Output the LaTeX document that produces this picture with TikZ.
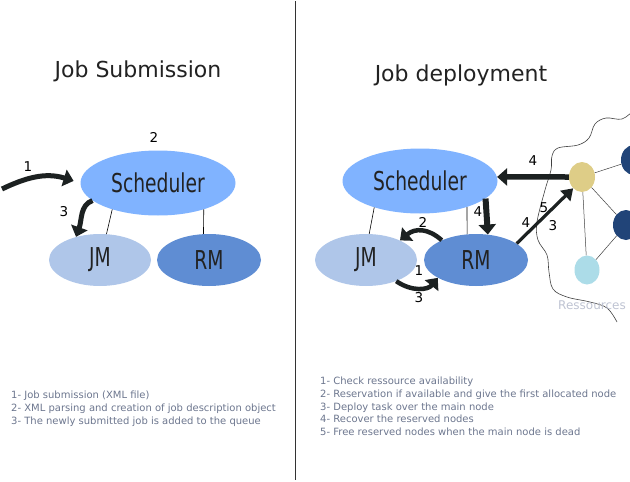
\documentclass[tikz,border=0pt]{standalone}
\usepackage{fontspec}
\setmainfont{DejaVu Sans}
\newfontfamily\narrowfont[FakeStretch=0.72]{DejaVu Sans}
\usetikzlibrary{shapes.geometric,arrows.meta,positioning}
\definecolor{schedblue}{RGB}{128,179,255}
\definecolor{jmblue}{RGB}{175,198,233}
\definecolor{rmblue}{RGB}{95,141,211}
\definecolor{mainyellow}{RGB}{222,205,135}
\definecolor{nodedark}{RGB}{33,68,120}
\definecolor{nodelight}{RGB}{172,220,232}
\definecolor{arrowdark}{RGB}{28,33,33}
\definecolor{textdark}{RGB}{34,34,34}
\definecolor{legendgray}{RGB}{108,118,142}
\definecolor{resgray}{RGB}{190,195,210}

\begin{document}
\begin{tikzpicture}[
    x=1pt, y=-1pt,
    title/.style={font=\fontsize{22}{24}\selectfont, text=textdark},
    schedbox/.style={ellipse, fill=schedblue, inner sep=0pt, minimum width=155pt, minimum height=65pt, text=textdark, font=\narrowfont\fontsize{26}{28}\selectfont},
    jmbox/.style={ellipse, fill=jmblue, inner sep=0pt, minimum width=102pt, minimum height=52pt, text=textdark, font=\narrowfont\fontsize{26}{28}\selectfont},
    rmbox/.style={ellipse, fill=rmblue, inner sep=0pt, minimum width=104pt, minimum height=52pt, text=textdark, font=\narrowfont\fontsize{26}{28}\selectfont},
    resnode/.style={ellipse, inner sep=0pt, minimum width=26pt, minimum height=30pt},
    link/.style={draw=black, line width=0.6pt},
    reslink/.style={draw=black!75, line width=0.5pt},
    bigarrow/.style={-{Triangle[length=10pt,width=17pt]}, line width=5pt, draw=arrowdark},
    thinarrow/.style={-{Triangle[length=11pt,width=14pt]}, line width=3.2pt, draw=arrowdark},
    num/.style={inner sep=0pt, font=\fontsize{13.5}{14}\selectfont, text=black},
    legend/.style={anchor=north west, inner sep=0pt, align=left, text=legendgray, font=\fontsize{10}{12.6}\selectfont}
]
    \useasboundingbox (0,0) rectangle (630,482);
    \draw [line width=0.8pt, draw=black!80] (295,1) -- (295,480);

    \node [title] (ltitle) at (138,71) {Job Submission};
    \node [title] (rtitle) at (461,75) {Job deployment};

    \node [schedbox] (lsched) at (158,183) {Scheduler};
    \node [jmbox] (ljm) at (100,260) {JM};
    \node [rmbox] (lrm) at (209,260) {RM};

    \draw [link] (lsched.210) -- (ljm.76);
    \draw [link] (lsched.330) -- (lrm.102);

    \coordinate (jobin) at (2,189);
    \draw [bigarrow, shorten >=7pt] (jobin) .. controls (25,178) and (45,172) .. (lsched.west);
    \draw [bigarrow] (lsched.195) .. controls (80,205) and (82,220) .. (ljm.136);

    \node [num] (n1) at (28,167) {1};
    \node [num] (n2) at (154,137) {2};
    \node [num] (n3) at (64,212) {3};

    \node [legend] (lleg) at (11,391) {1- Job submission (XML file)\\2- XML parsing and creation of job description object\\3- The newly submitted job is added to the queue};

    \draw [line width=0.6pt, draw=black!75] plot [smooth, tension=0.6] coordinates {(634,110) (622,119) (606,118) (595,124) (589,138) (578,145) (558,148) (552,156) (551,170) (545,190) (537,222) (538,240) (547,255) (549,272) (553,289) (567,297) (590,302) (607,308) (617,322)};

    \node [schedbox] (rsched) at (420,181) {Scheduler};
    \node [jmbox] (rjm) at (366,260) {JM};
    \node [rmbox] (rrm) at (476,260) {RM};

    \draw [link] (rsched.210) -- (rjm.83);
    \draw [link] (rsched.331) -- (rrm.109);

    \node [resnode, fill=mainyellow] (yel) at (582,177) {};
    \node [resnode, fill=nodedark] (res1) at (634,160) {};
    \node [resnode, fill=nodedark] (res2) at (626,225) {};
    \node [resnode, fill=nodelight, minimum width=25pt, minimum height=29pt] (res3) at (587,270) {};

    \draw [reslink] (yel) -- (res1);
    \draw [reslink] (yel) -- (res2);
    \draw [reslink] (yel) -- (res3);
    \draw [reslink] (res2) -- (res3);

    \node [font=\fontsize{12}{14}\selectfont, text=resgray] (ress) at (592,305) {Ressources};

    \draw [bigarrow, line width=5.5pt] (yel.180) -- (rsched.3);
    \draw [bigarrow, line width=6pt] (rsched.-15) -- (rrm.65);
    \draw [bigarrow, line width=4.5pt] (rrm.150) .. controls (428,228) and (415,228) .. (rjm.30);
    \draw [bigarrow, line width=4.5pt] (rjm.-35) .. controls (412,292) and (428,290) .. (rrm.205);
    \draw [thinarrow] (rrm.22) -- (yel.232);

    \node [num] (m4a) at (533,161) {4};
    \node [num] (m4b) at (478,212) {4};
    \node [num] (m2) at (423,222) {2};
    \node [num] (m1) at (419,271) {1};
    \node [num] (m3a) at (419,298) {3};
    \node [num] (m4c) at (526,223) {4};
    \node [num] (m5) at (544,208) {5};
    \node [num] (m3b) at (553,226) {3};

    \node [legend] (rleg) at (320,377) {1- Check ressource availability\\2- Reservation if available and give the first allocated node\\3- Deploy task over the main node\\4- Recover the reserved nodes\\5- Free reserved nodes when the main node is dead};
\end{tikzpicture}
\end{document}
